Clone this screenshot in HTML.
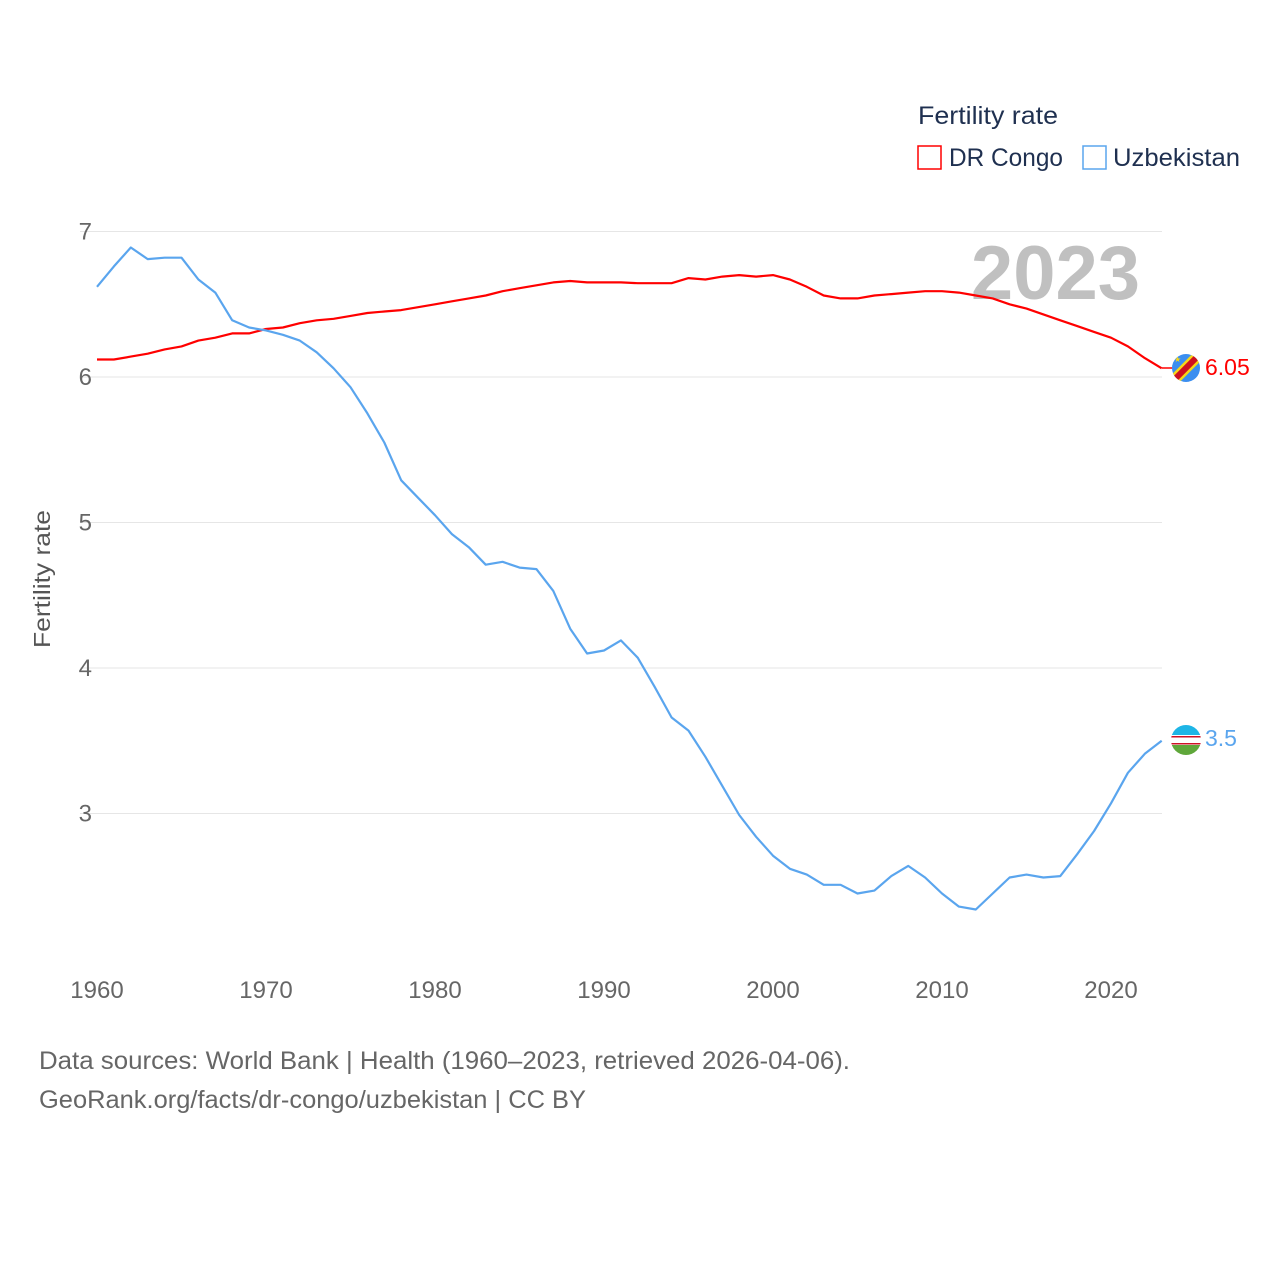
<!DOCTYPE html>
<html><head><meta charset="utf-8">
<style>
html,body{margin:0;padding:0;background:#fff;}
body{width:1280px;height:1280px;position:relative;font-family:"Liberation Sans",sans-serif;overflow:hidden;}
svg text{font-family:"Liberation Sans",sans-serif;}
</style></head>
<body>
<svg id="chart" width="1280" height="1280" xmlns="http://www.w3.org/2000/svg">
  <g id="grid"></g>
  <g id="yticks"></g>
  <g id="xticks"></g>
  <text x="1140" y="299" text-anchor="end" font-size="76" font-weight="bold" fill="#c0c0c0">2023</text>
  <text transform="translate(50,579) rotate(-90)" text-anchor="middle" font-size="23" fill="#555" textLength="138" lengthAdjust="spacingAndGlyphs">Fertility rate</text>
  <g id="series"></g>
  <g>
    <text x="918" y="124" font-size="25" fill="#1f3050" textLength="140" lengthAdjust="spacingAndGlyphs">Fertility rate</text>
    <g>
      <rect x="918" y="146" width="23" height="23" fill="none" stroke="#ff0000" stroke-width="1.5"/>
      <text x="949" y="166" font-size="25" fill="#1f3050" textLength="114" lengthAdjust="spacingAndGlyphs">DR Congo</text>
    </g>
    <g>
      <rect x="1083" y="146" width="23" height="23" fill="none" stroke="#5aa5ee" stroke-width="1.5"/>
      <text x="1113" y="166" font-size="25" fill="#1f3050" textLength="127" lengthAdjust="spacingAndGlyphs">Uzbekistan</text>
    </g>
  </g>
  <line x1="1162" y1="368" x2="1175" y2="368" stroke="#ff0000" stroke-width="1.5"/>
  <g>
    <clipPath id="c1"><circle cx="1186" cy="368" r="14"/></clipPath>
    <g clip-path="url(#c1)">
      <rect x="1170" y="352" width="32" height="32" fill="#3b8ef0"/>
      <line x1="1168" y1="386" x2="1204" y2="350" stroke="#f7d618" stroke-width="11"/>
      <line x1="1168" y1="386" x2="1204" y2="350" stroke="#ce1021" stroke-width="6"/>
      <text x="1174" y="362" font-size="8" fill="#f7d618">★</text>
    </g>
  </g>
  <g>
    <clipPath id="c2"><circle cx="1186" cy="740" r="15"/></clipPath>
    <g clip-path="url(#c2)">
      <rect x="1170" y="724" width="32" height="11" fill="#1eb5e6"/>
      <rect x="1170" y="735" width="32" height="10" fill="#fff"/>
      <rect x="1170" y="736" width="32" height="1.5" fill="#ce1126"/>
      <rect x="1170" y="743" width="32" height="1.5" fill="#ce1126"/>
      <rect x="1170" y="745" width="32" height="12" fill="#5fa73a"/>
    </g>
  </g>
  <text x="1205" y="375" font-size="23" fill="#ff0000">6.05</text>
  <text x="1205" y="746" font-size="23" fill="#5aa5ee">3.5</text>
  <text x="39" y="1069" font-size="25" fill="#666" textLength="811" lengthAdjust="spacingAndGlyphs">Data sources: World Bank | Health (1960–2023, retrieved 2026-04-06).</text>
  <text x="39" y="1108" font-size="25" fill="#666" textLength="547" lengthAdjust="spacingAndGlyphs">GeoRank.org/facts/dr-congo/uzbekistan | CC BY</text>
</svg>
<script>
const years = [];
for (let y = 1960; y <= 2023; y++) years.push(y);
const drCongo = [6.12,6.12,6.14,6.16,6.19,6.21,6.25,6.27,6.30,6.30,6.33,6.34,6.37,6.39,6.40,6.42,6.44,6.45,6.46,6.48,6.50,6.52,6.54,6.56,6.59,6.61,6.63,6.65,6.66,6.65,6.65,6.65,6.645,6.645,6.645,6.68,6.67,6.69,6.70,6.69,6.70,6.67,6.62,6.56,6.54,6.54,6.56,6.57,6.58,6.59,6.59,6.58,6.56,6.54,6.50,6.47,6.43,6.39,6.35,6.31,6.27,6.21,6.13,6.06];
const uzbekistan = [6.62,6.76,6.89,6.81,6.82,6.82,6.67,6.58,6.39,6.34,6.32,6.29,6.25,6.17,6.06,5.93,5.75,5.55,5.29,5.17,5.05,4.92,4.83,4.71,4.73,4.69,4.68,4.53,4.27,4.10,4.12,4.19,4.07,3.87,3.66,3.57,3.39,3.19,2.99,2.84,2.71,2.62,2.58,2.51,2.51,2.45,2.47,2.57,2.64,2.56,2.45,2.36,2.34,2.45,2.56,2.58,2.56,2.57,2.72,2.88,3.07,3.28,3.41,3.50];
const yTicks = [3,4,5,6,7];
const xTicks = [1960,1970,1980,1990,2000,2010,2020];

const xScale = y => 97 + (y - 1960) * (1111 - 97) / 60;
const yScale = v => 377 - (v - 6) * 145.5;
const NS = "http://www.w3.org/2000/svg";
const grid = document.getElementById('grid');
const yt = document.getElementById('yticks');
const xt = document.getElementById('xticks');
yTicks.forEach(t => {
  const l = document.createElementNS(NS,'line');
  
  
  l.setAttribute('x1',80); l.setAttribute('x2',1162);
  l.setAttribute('y1',yScale(t)); l.setAttribute('y2',yScale(t));
  l.setAttribute('stroke','#e6e6e6'); l.setAttribute('stroke-width','1');
  grid.appendChild(l);
  const tx = document.createElementNS(NS,'text');
  
  
  tx.setAttribute('x',92); tx.setAttribute('y',yScale(t)+8);
  tx.setAttribute('text-anchor','end'); tx.setAttribute('font-size','24'); tx.setAttribute('fill','#666');
  tx.textContent = t;
  yt.appendChild(tx);
});
xTicks.forEach(t => {
  const tx = document.createElementNS(NS,'text');
  
  
  tx.setAttribute('x',xScale(t)); tx.setAttribute('y',998);
  tx.setAttribute('text-anchor','middle'); tx.setAttribute('font-size','24'); tx.setAttribute('fill','#666');
  tx.textContent = t;
  xt.appendChild(tx);
});
const series = document.getElementById('series');
function addLine(vals, color, name) {
  const p = document.createElementNS(NS,'path');
  
  
  p.setAttribute('d', vals.map((v,i)=>(i?'L':'M')+xScale(years[i]).toFixed(1)+','+yScale(v).toFixed(1)).join(''));
  p.setAttribute('fill','none'); p.setAttribute('stroke',color); p.setAttribute('stroke-width','2.2');
  p.setAttribute('stroke-linejoin','round');
  series.appendChild(p);
}
addLine(drCongo,'#ff0000','dr-congo-line');
addLine(uzbekistan,'#5aa5ee','uzbekistan-line');
</script>
</body></html>
